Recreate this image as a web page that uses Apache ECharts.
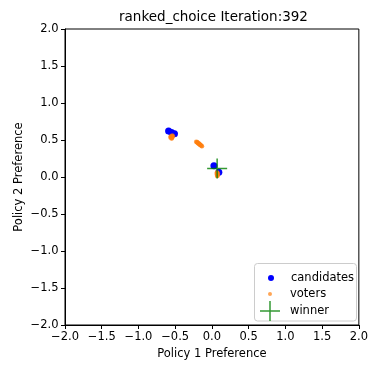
<!DOCTYPE html>
<html>
<head>
<meta charset="utf-8">
<script src="https://cdn.jsdelivr.net/npm/echarts@6/dist/echarts.min.js"></script>
<style>
  html, body { margin: 0; padding: 0; background: #fff; }
  #chart { width: 371px; height: 365px; }
</style>
</head>
<body>
<div id="chart"></div>
<script>
// Policy-space positions after the ranked-choice round
const titleText = 'ranked_choice Iteration:392';
const xLabel = 'Policy 1 Preference';
const yLabel = 'Policy 2 Preference';
const axisTicks = [-2.0, -1.5, -1.0, -0.5, 0.0, 0.5, 1.0, 1.5, 2.0];

const candidates = [
  [-0.59, 0.62], [-0.55, 0.60], [-0.51, 0.585],
  [0.027, 0.152], [0.094, 0.063]
];

const voters = [
  // cluster near (-0.55, 0.54)
  [-0.56, 0.55], [-0.55, 0.53], [-0.54, 0.54], [-0.555, 0.545], [-0.545, 0.525],
  [-0.53, 0.55], [-0.565, 0.535], [-0.54, 0.56], [-0.55, 0.52],
  // diagonal streak
  [-0.215, 0.475], [-0.205, 0.468], [-0.195, 0.462], [-0.19, 0.455], [-0.18, 0.45],
  [-0.172, 0.445], [-0.165, 0.44], [-0.158, 0.432], [-0.15, 0.428], [-0.142, 0.42],
  [-0.135, 0.415], [-0.2, 0.472], [-0.175, 0.452], [-0.16, 0.437],
  // cluster below the winner
  [0.068, 0.065], [0.072, 0.055], [0.07, 0.045], [0.075, 0.035], [0.073, 0.025],
  [0.078, 0.018], [0.065, 0.04], [0.08, 0.05], [0.07, 0.015]
];

const winner = [[0.071, 0.115]];

const fontFamily = 'DejaVu Sans';
const fmt = v => v.toFixed(1).replace('-', '\u2212');

function axis(isX) {
  return {
    type: 'value',
    min: axisTicks[0],
    max: axisTicks[axisTicks.length - 1],
    interval: axisTicks[1] - axisTicks[0],
    name: isX ? xLabel : yLabel,
    nameLocation: 'middle',
    nameGap: isX ? 23 : 40,
    nameMoveOverlap: false,
    nameTextStyle: { fontFamily, fontSize: 11.5, color: '#000' },
    axisLine: { show: true, onZero: false, lineStyle: { color: '#000', width: 1 } },
    axisTick: { show: true, length: 4, lineStyle: { color: '#000' } },
    axisLabel: { fontFamily, fontSize: 11.5, color: '#000', margin: isX ? 6 : 6.5, formatter: fmt },
    splitLine: { show: false }
  };
}

const plusPath = 'path://M9.25,0h1.5v9.25h9.25v1.5h-9.25v9.25h-1.5v-9.25h-9.25v-1.5h9.25z';
const legendText = { fontFamily, fontSize: 11.5, color: '#000' };

const chart = echarts.init(document.getElementById('chart'), null, { renderer: 'canvas' });
chart.setOption({
  animation: false,
  backgroundColor: '#fff',
  title: {
    text: titleText,
    left: 213.5, top: 10, textAlign: 'center',
    padding: 0,
    textStyle: { fontFamily, fontSize: 13.5, fontWeight: 'normal', color: '#000' }
  },
  grid: {
    left: 65, right: 9, top: 29, bottom: 38.5,
    show: true, borderColor: '#000', borderWidth: 1, backgroundColor: 'transparent'
  },
  xAxis: axis(true),
  yAxis: axis(false),
  graphic: [{
    type: 'rect', z: 5,
    shape: { x: 254.5, y: 263.5, width: 102, height: 57.5, r: 3 },
    style: { fill: 'rgba(255,255,255,0.8)', stroke: '#ccc', lineWidth: 1 }
  }],
  legend: [
    { data: ['candidates'], left: 268, top: 272, itemWidth: 30, itemHeight: 6, itemGap: 0, padding: 0,
      textStyle: legendText, z: 6 },
    { data: ['voters'], left: 268, top: 288, itemWidth: 30, itemHeight: 4, itemGap: 0, padding: 0,
      textStyle: legendText, z: 6 },
    { data: [{ name: 'winner', icon: plusPath }], left: 260, top: 301, itemWidth: 30, itemHeight: 20, itemGap: 0, padding: 0,
      textStyle: legendText, z: 6 }
  ],
  series: [
    {
      name: 'candidates', type: 'scatter', data: candidates,
      symbol: 'circle', symbolSize: 7,
      itemStyle: { color: '#0000ff', opacity: 1 }, z: 2
    },
    {
      name: 'voters', type: 'scatter', data: voters,
      symbol: 'circle', symbolSize: 4.5,
      itemStyle: { color: '#ff7f0e', opacity: 0.7 }, z: 3
    },
    {
      name: 'winner', type: 'scatter', data: winner,
      symbol: plusPath, symbolSize: 20,
      itemStyle: { color: '#008000' }, z: 4
    }
  ]
});
</script>
</body>
</html>
